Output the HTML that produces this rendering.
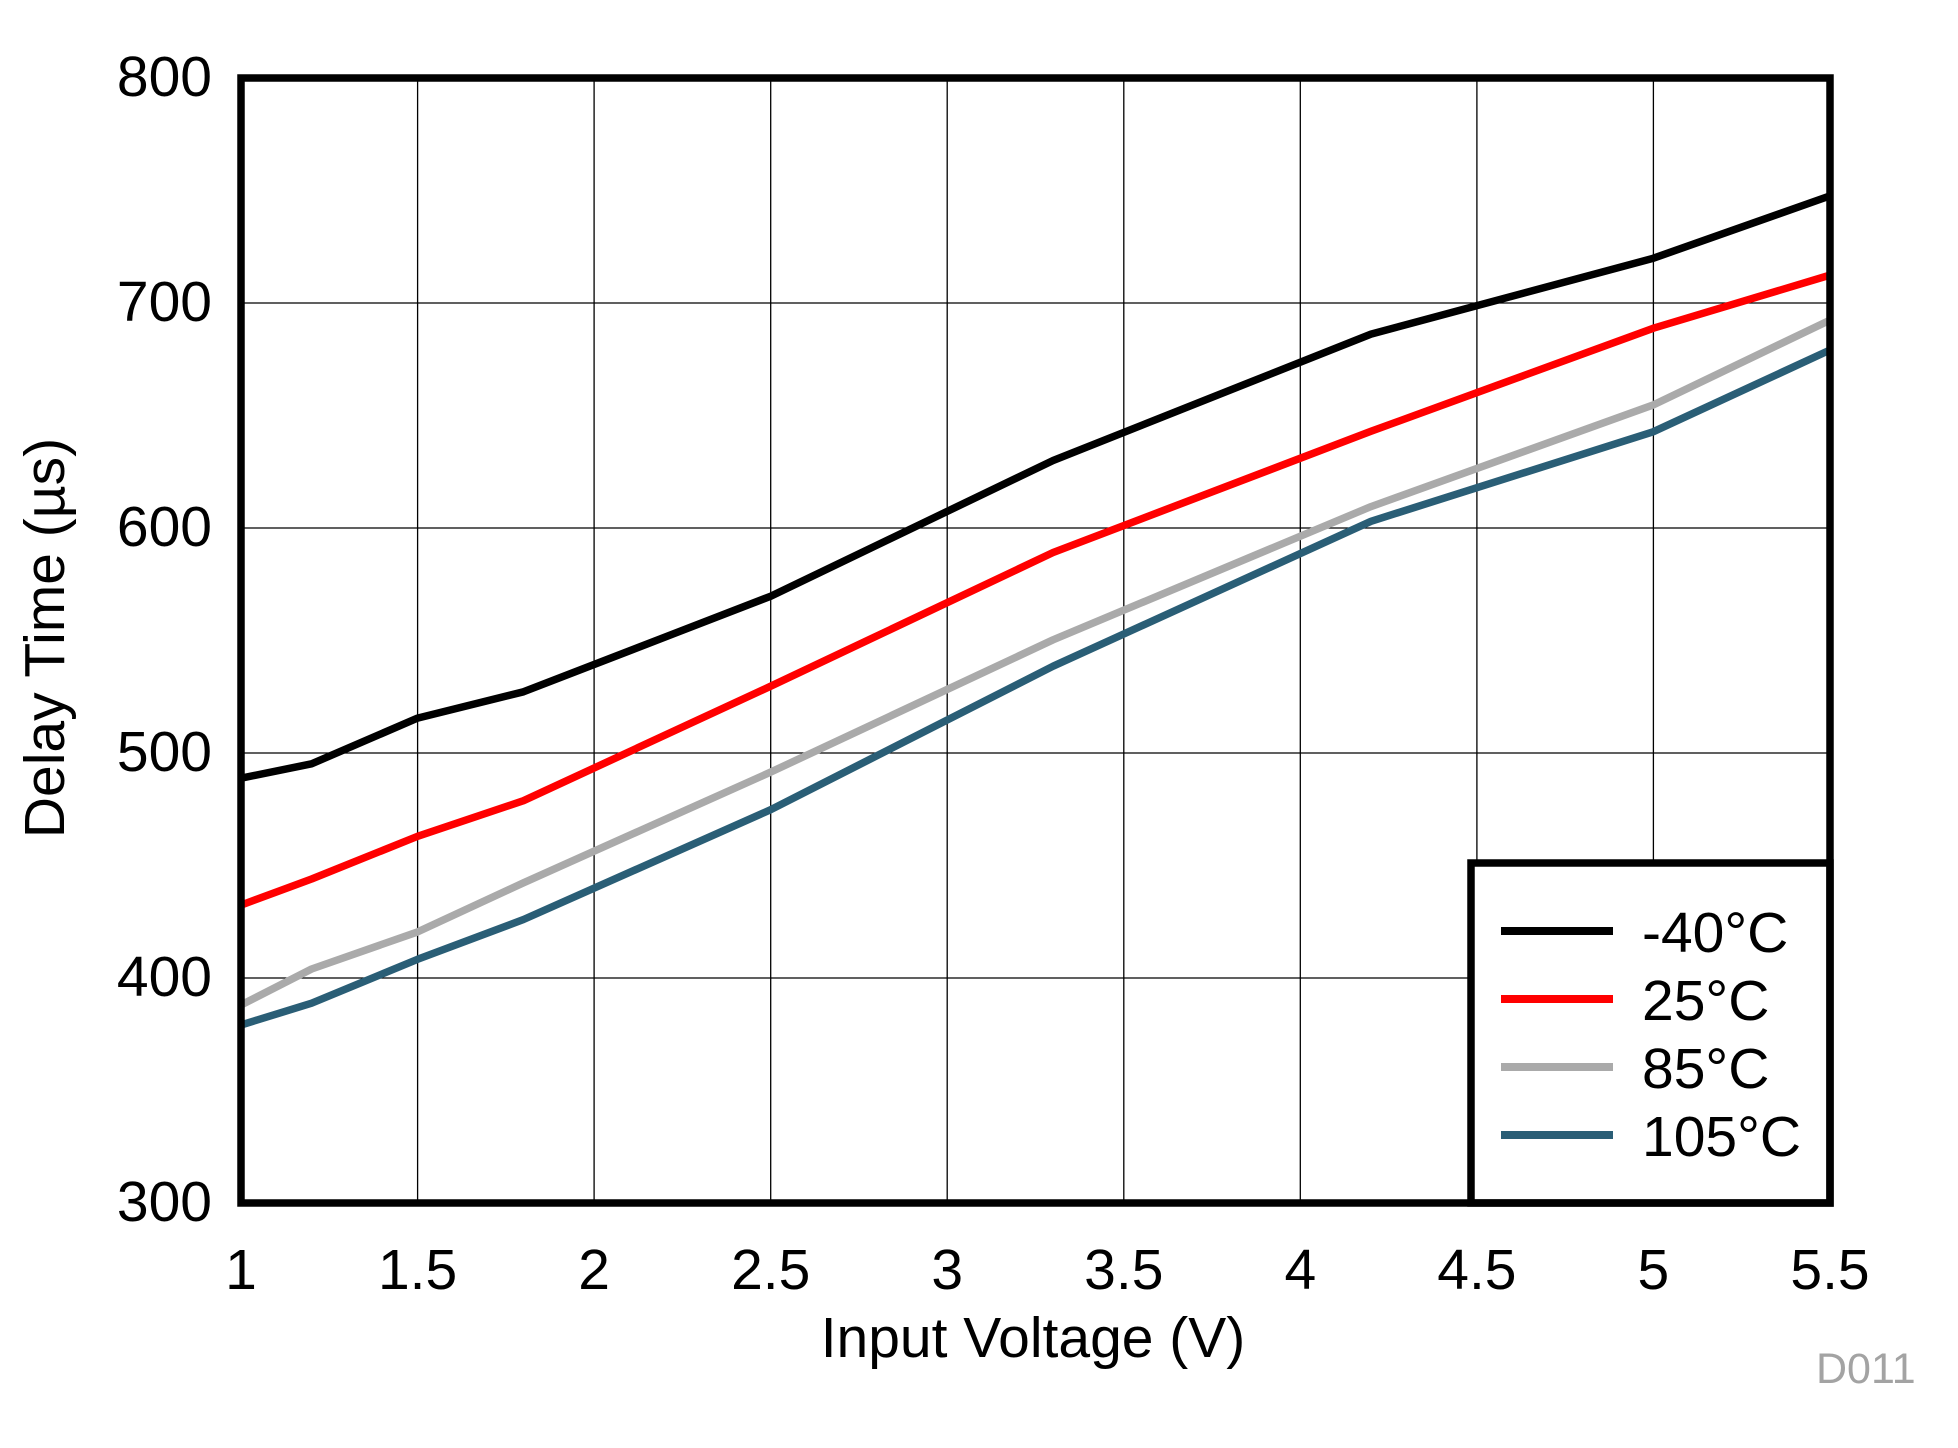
<!DOCTYPE html>
<html>
<head>
<meta charset="utf-8">
<style>
  html, body { margin: 0; padding: 0; background: #ffffff; }
  svg { display: block; }
  text { font-family: "Liberation Sans", Arial, sans-serif; fill: #000; }
</style>
</head>
<body>
<svg width="1958" height="1448" viewBox="0 0 1958 1448" xmlns="http://www.w3.org/2000/svg">
  <rect x="0" y="0" width="1958" height="1448" fill="#ffffff"/>

  <!-- grid -->
  <g stroke="#000" stroke-width="1.3" fill="none">
    <line x1="417.6" y1="78" x2="417.6" y2="1203"/>
    <line x1="594.1" y1="78" x2="594.1" y2="1203"/>
    <line x1="770.7" y1="78" x2="770.7" y2="1203"/>
    <line x1="947.2" y1="78" x2="947.2" y2="1203"/>
    <line x1="1123.8" y1="78" x2="1123.8" y2="1203"/>
    <line x1="1300.3" y1="78" x2="1300.3" y2="1203"/>
    <line x1="1476.9" y1="78" x2="1476.9" y2="1203"/>
    <line x1="1653.4" y1="78" x2="1653.4" y2="1203"/>
    <line x1="241" y1="303" x2="1830" y2="303"/>
    <line x1="241" y1="528" x2="1830" y2="528"/>
    <line x1="241" y1="753" x2="1830" y2="753"/>
    <line x1="241" y1="978" x2="1830" y2="978"/>
  </g>

  <!-- series -->
  <g fill="none" stroke-width="7.5" stroke-linejoin="round">
    <polyline stroke="#000000" points="241,778.2 311.6,763.8 417.6,718.1 523.5,691.8 770.7,596.2 1053.1,460.5 1371,334.1 1653.4,258.2 1830,195.9"/>
    <polyline stroke="#ff0000" points="241,905.1 311.6,879 417.6,836.3 523.5,800.7 770.7,686.2 1053.1,552.5 1371,431.3 1653.4,328.2 1830,275.1"/>
    <polyline stroke="#aaaaaa" points="241,1005 311.6,969 417.6,931.9 523.5,882.8 770.7,772.1 1053.1,639.8 1371,506.6 1653.4,404.9 1830,320.1"/>
    <polyline stroke="#2a5e76" points="241,1025 311.6,1003.2 417.6,959.3 523.5,919.5 770.7,809.7 1053.1,666.2 1371,521.3 1653.4,431.7 1830,350"/>
  </g>

  <!-- legend -->
  <rect x="1471" y="863" width="359" height="340" fill="#ffffff" stroke="#000" stroke-width="7.5"/>
  <g stroke-width="8">
    <line x1="1501" y1="931" x2="1613" y2="931" stroke="#000000"/>
    <line x1="1501" y1="999" x2="1613" y2="999" stroke="#ff0000"/>
    <line x1="1501" y1="1067" x2="1613" y2="1067" stroke="#aaaaaa"/>
    <line x1="1501" y1="1135" x2="1613" y2="1135" stroke="#2a5e76"/>
  </g>
  <g font-size="57">
    <text x="1642" y="952">-40°C</text>
    <text x="1642" y="1020">25°C</text>
    <text x="1642" y="1088">85°C</text>
    <text x="1642" y="1156">105°C</text>
  </g>

  <!-- plot border -->
  <rect x="241" y="78" width="1589" height="1125" fill="none" stroke="#000" stroke-width="7.5"/>

  <!-- y tick labels -->
  <g font-size="57" text-anchor="end">
    <text x="212" y="96">800</text>
    <text x="212" y="321">700</text>
    <text x="212" y="546">600</text>
    <text x="212" y="771">500</text>
    <text x="212" y="996">400</text>
    <text x="212" y="1221">300</text>
  </g>

  <!-- x tick labels -->
  <g font-size="57" text-anchor="middle">
    <text x="241" y="1289">1</text>
    <text x="417.6" y="1289">1.5</text>
    <text x="594.1" y="1289">2</text>
    <text x="770.7" y="1289">2.5</text>
    <text x="947.2" y="1289">3</text>
    <text x="1123.8" y="1289">3.5</text>
    <text x="1300.3" y="1289">4</text>
    <text x="1476.9" y="1289">4.5</text>
    <text x="1653.4" y="1289">5</text>
    <text x="1830" y="1289">5.5</text>
  </g>

  <!-- axis titles -->
  <text x="1033" y="1357" font-size="57" text-anchor="middle">Input Voltage (V)</text>
  <text transform="translate(64,638) rotate(-90)" x="0" y="0" font-size="57" text-anchor="middle">Delay Time (µs)</text>

  <!-- figure id -->
  <text x="1816" y="1383" font-size="43" style="fill:#a3a3a3">D011</text>
</svg>
</body>
</html>
